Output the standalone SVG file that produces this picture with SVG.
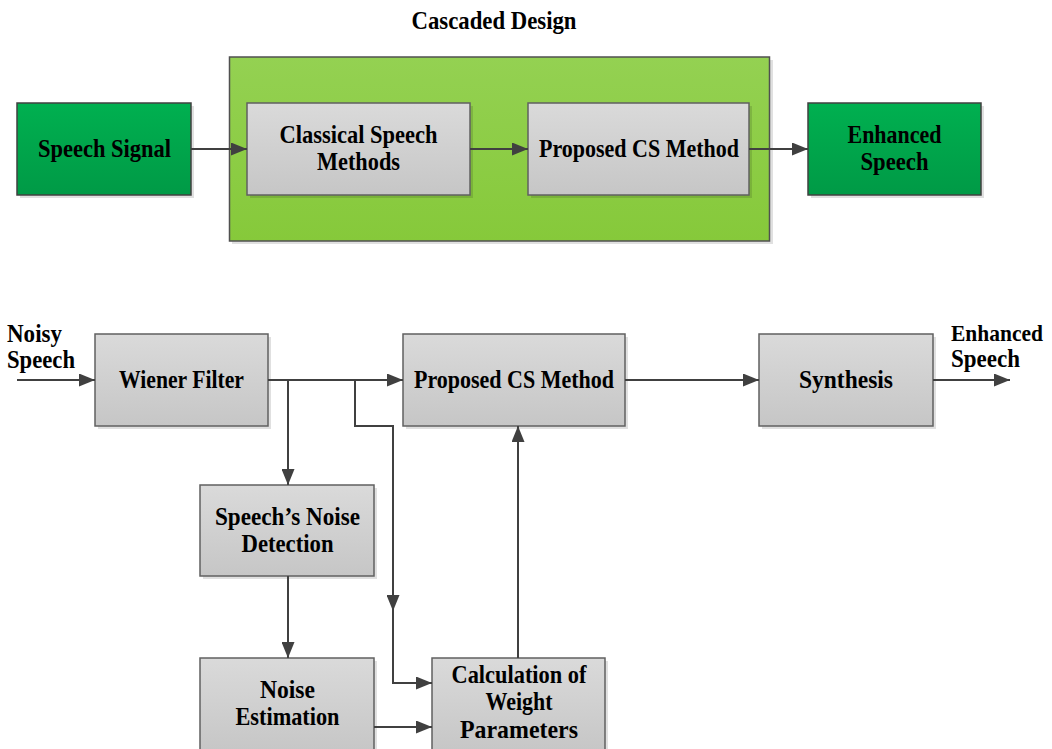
<svg xmlns="http://www.w3.org/2000/svg" width="1052" height="749" viewBox="0 0 1052 749">
<defs>
<linearGradient id="gGray" x1="0" y1="0" x2="0" y2="1"><stop offset="0" stop-color="#dadada"/><stop offset="1" stop-color="#c6c6c6"/></linearGradient>
<linearGradient id="gGreen" x1="0" y1="0" x2="0" y2="1"><stop offset="0" stop-color="#00b050"/><stop offset="1" stop-color="#009a46"/></linearGradient>
<linearGradient id="gLime" x1="0" y1="0" x2="0" y2="1"><stop offset="0" stop-color="#94d152"/><stop offset="1" stop-color="#86c93a"/></linearGradient>
<marker id="ah" viewBox="0 0 16 13" refX="16" refY="6.5" markerWidth="16" markerHeight="13" markerUnits="userSpaceOnUse" orient="auto"><path d="M0,0 L16,6.5 L0,13 Z" fill="#404040"/></marker>
<style>
.t{font-family:"Liberation Serif","Times New Roman",serif;font-size:25px;font-weight:bold;fill:#000;text-anchor:middle}
.box{fill:url(#gGray);stroke:#606060;stroke-width:1.5}
.grn{fill:url(#gGreen);stroke:#404040;stroke-width:1.5}
.sh{fill:#000;fill-opacity:0.12}
.c{fill:none;stroke:#404040;stroke-width:2}
</style>
</defs>
<rect width="1052" height="749" fill="#fff"/>
<text class="t" x="494" y="29" textLength="165" lengthAdjust="spacingAndGlyphs">Cascaded Design</text>

<g id="container">
<rect class="sh" x="232" y="60" width="541" height="184"/>
<rect x="229.5" y="57" width="540" height="184" fill="url(#gLime)" stroke="#505050" stroke-width="1.5"/>
</g>

<g id="speech-signal">
<rect class="sh" x="20" y="106" width="174" height="92"/>
<rect class="grn" x="17" y="103" width="174" height="92"/>
<text class="t" x="104.5" y="157" textLength="133" lengthAdjust="spacingAndGlyphs">Speech Signal</text>
</g>
<g id="classical">
<rect class="sh" x="250" y="106" width="223" height="92"/>
<rect class="box" x="247" y="103" width="223" height="92"/>
<text class="t" x="358.5" y="143" textLength="158" lengthAdjust="spacingAndGlyphs">Classical Speech</text>
<text class="t" x="358.5" y="170" textLength="83" lengthAdjust="spacingAndGlyphs">Methods</text>
</g>
<g id="proposed-top">
<rect class="sh" x="531" y="106" width="221" height="92"/>
<rect class="box" x="528" y="103" width="221" height="92"/>
<text class="t" x="639" y="157" textLength="200" lengthAdjust="spacingAndGlyphs">Proposed CS Method</text>
</g>
<g id="enhanced-top">
<rect class="sh" x="811" y="106" width="173" height="92"/>
<rect class="grn" x="808" y="103" width="173" height="92"/>
<text class="t" x="894.5" y="143" textLength="94" lengthAdjust="spacingAndGlyphs">Enhanced</text>
<text class="t" x="894.5" y="170" textLength="68" lengthAdjust="spacingAndGlyphs">Speech</text>
</g>

<g id="wiener">
<rect class="sh" x="98" y="337" width="173" height="92"/>
<rect class="box" x="95" y="334" width="173" height="92"/>
<text class="t" x="181.5" y="388" textLength="125" lengthAdjust="spacingAndGlyphs">Wiener Filter</text>
</g>
<g id="proposed-bottom">
<rect class="sh" x="406" y="337" width="222" height="92"/>
<rect class="box" x="403" y="334" width="222" height="92"/>
<text class="t" x="514" y="388" textLength="200" lengthAdjust="spacingAndGlyphs">Proposed CS Method</text>
</g>
<g id="synthesis">
<rect class="sh" x="762" y="337" width="174" height="92"/>
<rect class="box" x="759" y="334" width="174" height="92"/>
<text class="t" x="846" y="388" textLength="94" lengthAdjust="spacingAndGlyphs">Synthesis</text>
</g>
<g id="noise-detection">
<rect class="sh" x="203" y="488" width="174" height="91"/>
<rect class="box" x="200" y="485" width="174" height="91"/>
<text class="t" x="287.5" y="525" textLength="145" lengthAdjust="spacingAndGlyphs">Speech’s Noise</text>
<text class="t" x="287.5" y="552" textLength="92" lengthAdjust="spacingAndGlyphs">Detection</text>
</g>
<g id="noise-estimation">
<rect class="sh" x="203" y="661" width="174" height="92"/>
<rect class="box" x="200" y="658" width="174" height="94"/>
<text class="t" x="287.5" y="698" textLength="55" lengthAdjust="spacingAndGlyphs">Noise</text>
<text class="t" x="287.5" y="725" textLength="104" lengthAdjust="spacingAndGlyphs">Estimation</text>
</g>
<g id="weights">
<rect class="sh" x="435" y="661" width="173" height="92"/>
<rect class="box" x="432" y="658" width="173" height="94"/>
<text class="t" x="519" y="683" textLength="135" lengthAdjust="spacingAndGlyphs">Calculation of</text>
<text class="t" x="519" y="710" textLength="67" lengthAdjust="spacingAndGlyphs">Weight</text>
<text class="t" x="519" y="738" textLength="118" lengthAdjust="spacingAndGlyphs">Parameters</text>
</g>

<g id="labels">
<text class="t" style="text-anchor:start" x="7" y="342" textLength="55" lengthAdjust="spacingAndGlyphs">Noisy</text>
<text class="t" style="text-anchor:start" x="7" y="368" textLength="68" lengthAdjust="spacingAndGlyphs">Speech</text>
<text class="t" style="text-anchor:start;font-size:23px" x="951" y="341" textLength="92" lengthAdjust="spacingAndGlyphs">Enhanced</text>
<text class="t" style="text-anchor:start" x="951" y="367" textLength="69" lengthAdjust="spacingAndGlyphs">Speech</text>
</g>

<g id="connectors">
<line class="c" x1="191" y1="149" x2="247" y2="149" marker-end="url(#ah)"/>
<line class="c" x1="470" y1="149" x2="528" y2="149" marker-end="url(#ah)"/>
<line class="c" x1="749" y1="149" x2="808" y2="149" marker-end="url(#ah)"/>
<line class="c" x1="17" y1="380" x2="95" y2="380" marker-end="url(#ah)"/>
<line class="c" x1="268" y1="380" x2="403" y2="380" marker-end="url(#ah)"/>
<line class="c" x1="288" y1="380" x2="288" y2="485" marker-end="url(#ah)"/>
<polyline class="c" points="355,380 355,426 393,426 393,611" marker-end="url(#ah)"/>
<polyline class="c" points="393,609 393,683 432,683" marker-end="url(#ah)"/>
<line class="c" x1="288" y1="576" x2="288" y2="658" marker-end="url(#ah)"/>
<line class="c" x1="374" y1="727" x2="432" y2="727" marker-end="url(#ah)"/>
<line class="c" x1="518" y1="658" x2="518" y2="426" marker-end="url(#ah)"/>
<line class="c" x1="625" y1="380" x2="759" y2="380" marker-end="url(#ah)"/>
<line class="c" x1="933" y1="380" x2="1010" y2="380" marker-end="url(#ah)"/>
</g>
</svg>
